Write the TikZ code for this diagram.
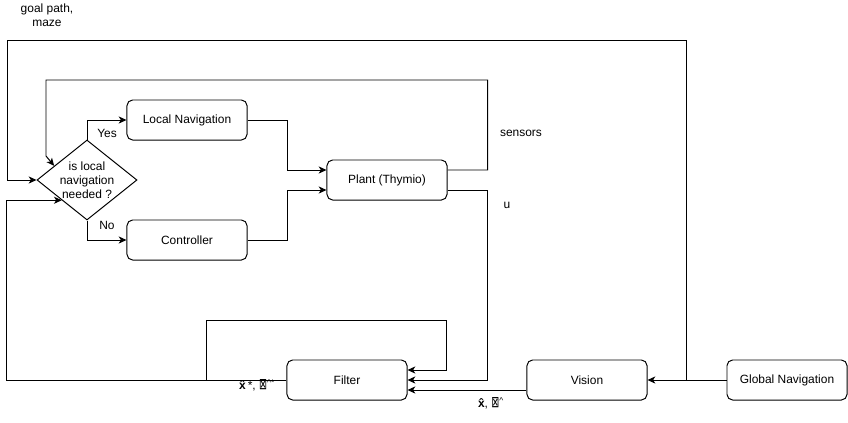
\documentclass[tikz,border=0pt]{standalone}
\usepackage{fontspec}
\usepackage{graphicx}
\setmainfont{Liberation Sans}
\newfontfamily\symfont{DejaVu Sans}
\usetikzlibrary{shapes.geometric,arrows.meta,calc}
\newcommand{\tofubox}{\scalebox{0.8}[1.3]{\symfont ⊠}}
\begin{document}
\begin{tikzpicture}[x=0.025cm,y=-0.025cm,
        every node/.style={font=\fontsize{8.5}{10}\selectfont},
        block/.style={draw,line width=0.7pt,rounded corners=4pt,minimum width=3cm,minimum height=1cm,inner sep=0pt},
        decision/.style={draw,line width=0.7pt,diamond,aspect=1.25,inner sep=-3pt,minimum width=2.5cm,minimum height=2cm,align=center},
        arr/.style={line width=0.7pt,-{Stealth[length=5.5pt,width=5pt,inset=1.5pt]}},
        lbl/.style={inner sep=0pt,align=center}]
    \useasboundingbox (0,0) rectangle (848,422);
    % blocks
    \node[decision] (dec) at (87,180) {is local\\navigation\\needed ?};
    \node[block] (locnav) at (187,120) {Local Navigation};
    \node[block] (ctrl) at (187,240) {Controller};
    \node[block] (plant) at (387,180) {Plant (Thymio)};
    \node[block] (filter) at (347,380) {Filter};
    \node[block] (vision) at (587,380) {Vision};
    \node[block] (globnav) at (787,380) {Global Navigation};
    % decision branches
    \draw[arr] (dec.north) |- (locnav.west);
    \draw[arr] (dec.south) |- (ctrl.west);
    \node[lbl] (yes) at (107,133) {Yes};
    \node[lbl] (no) at (107,225) {No};
    \draw[arr] (locnav.east) -- ++(40,0) |- ([yshift=2.5mm]plant.west);
    \draw[arr] (ctrl.east) -- ++(40,0) |- ([yshift=-2.5mm]plant.west);
    % plant outputs
    \draw[arr] ([yshift=2.5mm]plant.east) -- ++(40,0) |- (46,80) -- (46,156) -- ($(dec.west)!0.35!(dec.north)$);
    \draw[arr] ([yshift=-2.5mm]plant.east) -- ++(40,0) |- (filter.east);
    \node[lbl] (sensors) at (521,133) {sensors};
    \node[lbl] (u) at (507,205) {u};
    % filter
    \draw[arr] (filter.west) -- ++(-280,0) |- ($(dec.west)!0.5!(dec.south)$);
    \draw[arr] ([xshift=-2cm]filter.west) |- ++(240,-60) |- ([yshift=2.5mm]filter.east);
    \node[lbl] (xstar) at (257,385) {\textbf{\^x}*, \tofubox\textsuperscript{\textasciicircum*}};
    \draw[arr] ([yshift=-2.5mm]vision.west) -- ([yshift=-2.5mm]filter.east);
    \node[lbl] (xhat) at (491,403) {\textbf{\^x}, \tofubox\textsuperscript{\textasciicircum}};
    % global navigation
    \draw[arr] (globnav.west) -- (vision.east);
    \draw[arr] (globnav.west) -- ++(-40,0) |- (7,40) |- (dec.west);
    \node[lbl] (goal) at (47,15) {goal path,\\maze};
\end{tikzpicture}
\end{document}
